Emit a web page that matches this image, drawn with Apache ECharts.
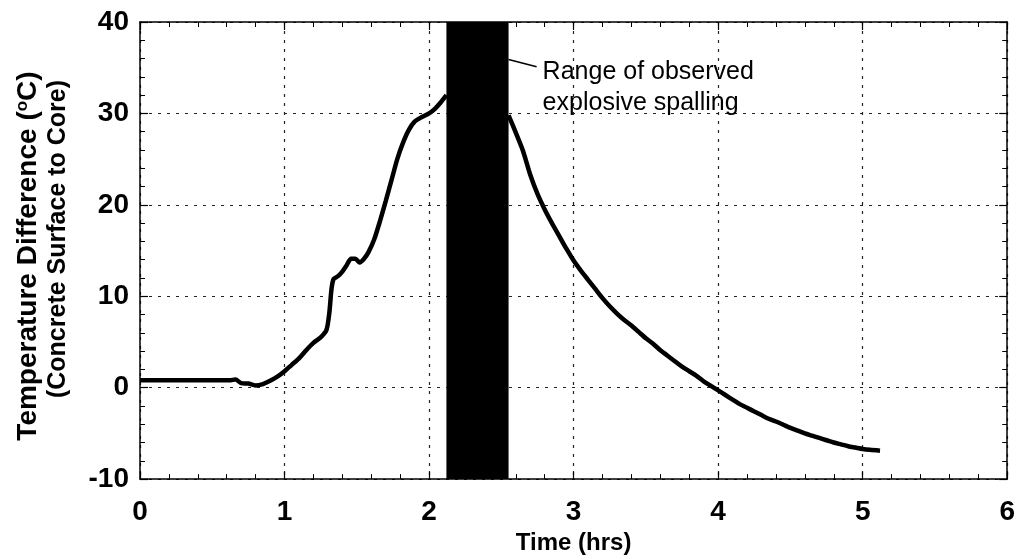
<!DOCTYPE html>
<html>
<head>
<meta charset="utf-8">
<script src="https://cdn.jsdelivr.net/npm/echarts@6/dist/echarts.min.js"></script>
<style>
  html, body { margin: 0; padding: 0; background: #fff; }
  #chart { width: 1018px; height: 560px; }
</style>
</head>
<body>
<div id="chart"></div>
<script>
// Surface-to-core temperature difference, before the spalling window
const hoursBefore = [0, 0.62, 0.66, 0.70, 0.75, 0.80, 0.85, 0.90, 0.95, 1.00, 1.05, 1.10, 1.15, 1.20, 1.25, 1.29, 1.31, 1.325, 1.34, 1.37, 1.40, 1.43, 1.46, 1.49, 1.52, 1.55, 1.58, 1.62, 1.66, 1.70, 1.74, 1.78, 1.82, 1.86, 1.90, 1.95, 2.00, 2.04, 2.08, 2.12];
const tempBefore  = [0.8, 0.8, 0.9, 0.5, 0.45, 0.25, 0.4, 0.75, 1.2, 1.8, 2.5, 3.2, 4.1, 4.9, 5.5, 6.3, 8.2, 10.8, 11.9, 12.2, 12.7, 13.4, 14.1, 14.1, 13.7, 14.1, 14.8, 16.2, 18.2, 20.4, 22.7, 25.0, 26.8, 28.2, 29.1, 29.6, 30.0, 30.5, 31.2, 32.0];

// ... and after it, while the section cools down
const hoursAfter = [2.55, 2.60, 2.65, 2.70, 2.75, 2.80, 2.85, 2.90, 2.95, 3.00, 3.05, 3.10, 3.15, 3.20, 3.25, 3.30, 3.35, 3.40, 3.45, 3.50, 3.55, 3.60, 3.65, 3.70, 3.75, 3.80, 3.85, 3.90, 3.95, 4.00, 4.05, 4.10, 4.15, 4.20, 4.25, 4.30, 4.35, 4.40, 4.45, 4.50, 4.55, 4.60, 4.65, 4.70, 4.75, 4.80, 4.85, 4.90, 4.95, 5.00, 5.05, 5.12];
const tempAfter  = [29.8, 27.9, 25.9, 23.3, 21.2, 19.5, 18.0, 16.6, 15.2, 13.9, 12.8, 11.8, 10.8, 9.8, 8.9, 8.1, 7.4, 6.8, 6.1, 5.4, 4.8, 4.1, 3.5, 2.9, 2.3, 1.8, 1.3, 0.7, 0.2, -0.3, -0.8, -1.3, -1.8, -2.2, -2.6, -3.0, -3.4, -3.7, -4.05, -4.4, -4.7, -5.0, -5.25, -5.5, -5.75, -6.0, -6.2, -6.4, -6.55, -6.7, -6.8, -6.9];

// Time window in which explosive spalling was observed (hrs)
const spallWindow = [2.12, 2.55];

// Axis ranges and tick steps
const xRange = [0, 6];
const xStep = 1;
const yRange = [-10, 40];
const yStep = 10;

const curve = hoursBefore.map((t, i) => [t, tempBefore[i]])
  .concat([[null, null]])
  .concat(hoursAfter.map((t, i) => [t, tempAfter[i]]));

const FONT = '"Liberation Sans", Arial, Helvetica, sans-serif';
const INK = '#000';

function frameAxis(extra) {
  return Object.assign({
    type: 'value',
    axisLine: { show: true, onZero: false, lineStyle: { color: INK, width: 1.5 } },
    axisTick: { show: true, inside: true, length: 8, lineStyle: { color: INK, width: 1.2 } },
    minorTick: { show: true, splitNumber: 5, length: 5, lineStyle: { color: INK, width: 1 } },
    axisLabel: { show: false },
    splitLine: { show: false },
    minorSplitLine: { show: false }
  }, extra);
}

const chart = echarts.init(document.getElementById('chart'), null, { renderer: 'canvas' });

chart.setOption({
  backgroundColor: '#fff',
  animation: false,
  grid: { left: 140, right: 10, top: 22, bottom: 78, containLabel: false },
  xAxis: [
    frameAxis({
      position: 'bottom',
      min: xRange[0], max: xRange[1], interval: xStep,
      name: 'Time (hrs)',
      nameLocation: 'middle',
      nameGap: 51,
      nameTextStyle: { color: INK, fontFamily: FONT, fontWeight: 'bold', fontSize: 24 },
      axisLabel: { show: true, color: INK, fontFamily: FONT, fontWeight: 'bold', fontSize: 28, margin: 19 },
      splitLine: { show: true, lineStyle: { color: '#222', width: 1.2, type: [3, 6] } }
    }),
    frameAxis({ position: 'top', min: xRange[0], max: xRange[1], interval: xStep })
  ],
  yAxis: [
    frameAxis({
      position: 'left',
      min: yRange[0], max: yRange[1], interval: yStep,
      axisLabel: { show: true, color: INK, fontFamily: FONT, fontWeight: 'bold', fontSize: 28, margin: 11 },
      splitLine: { show: true, lineStyle: { color: '#222', width: 1.2, type: [3, 6] } }
    }),
    frameAxis({ position: 'right', min: yRange[0], max: yRange[1], interval: yStep })
  ],
  graphic: [
    {
      type: 'text',
      x: 28, y: 256,
      rotation: Math.PI / 2,
      style: {
        text: '{a|Temperature Difference (}{s|o}{a|C)}',
        align: 'center',
        verticalAlign: 'middle',
        fill: INK,
        rich: {
          a: { fontFamily: FONT, fontWeight: 'bold', fontSize: 28, fill: INK },
          s: { fontFamily: FONT, fontWeight: 'bold', fontSize: 17, fill: INK, verticalAlign: 'top' }
        }
      }
    },
    {
      type: 'text',
      x: 58, y: 239,
      rotation: Math.PI / 2,
      style: {
        text: '(Concrete Surface to Core)',
        align: 'center',
        verticalAlign: 'middle',
        fill: INK,
        fontFamily: FONT, fontWeight: 'bold', fontSize: 25
      }
    }
  ],
  series: [
    {
      name: 'Temperature difference',
      type: 'line',
      data: curve,
      showSymbol: false,
      connectNulls: false,
      smooth: 0.25,
      z: 3,
      lineStyle: { color: INK, width: 4.5 }
    },
    {
      name: 'Spalling range',
      type: 'line',
      data: [],
      z: 10,
      markArea: {
        silent: true,
        itemStyle: { color: INK, opacity: 1 },
        data: [[{ xAxis: spallWindow[0] }, { xAxis: spallWindow[1] }]]
      },
      markLine: {
        silent: true,
        symbol: 'none',
        label: { show: false },
        lineStyle: { color: INK, width: 1.5, type: 'solid' },
        data: [[{ coord: [spallWindow[1], 35.9] }, { coord: [2.744, 35.1] }]]
      },
      markPoint: {
        silent: true,
        symbol: 'circle',
        symbolSize: 0,
        data: [{ coord: [2.751, 32.8] }],
        label: {
          show: true,
          position: 'right',
          distance: 5,
          align: 'left',
          formatter: 'Range of observed\nexplosive spalling',
          color: INK,
          fontFamily: FONT,
          fontSize: 25,
          lineHeight: 31
        }
      }
    }
  ]
});
</script>
</body>
</html>
